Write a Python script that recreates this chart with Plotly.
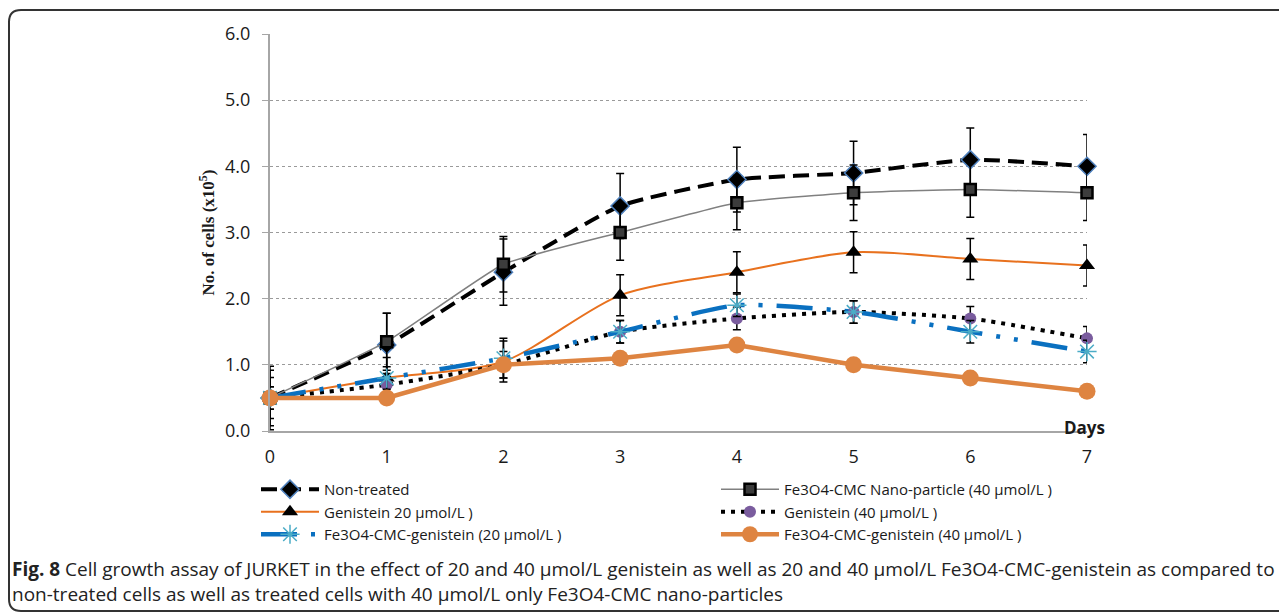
import plotly.graph_objects as go

# ---------------- data ----------------
days = [0, 1, 2, 3, 4, 5, 6, 7]
x_tick_labels = ["0", "1", "2", "3", "4", "5", "6", "7"]
y_tick_vals = [0, 1, 2, 3, 4, 5, 6]
y_tick_labels = ["0.0", "1.0", "2.0", "3.0", "4.0", "5.0", "6.0"]

series_names = [
    "Non-treated",
    "Fe3O4-CMC Nano-particle (40 μmol/L )",
    "Genistein 20 μmol/L )",
    "Genistein (40 μmol/L )",
    "Fe3O4-CMC-genistein (20 μmol/L )",
    "Fe3O4-CMC-genistein (40 μmol/L )",
]

non_treated = [0.5, 1.3, 2.4, 3.4, 3.8, 3.9, 4.1, 4.0]
non_treated_err = [0.48, 0.48, 0.5, 0.49, 0.49, 0.48, 0.48, 0.48]

np_40 = [0.5, 1.35, 2.52, 3.0, 3.45, 3.6, 3.65, 3.6]
np_40_err = [0.42, 0.43, 0.42, 0.42, 0.41, 0.42, 0.42, 0.42]

gen_20 = [0.5, 0.8, 1.05, 2.05, 2.4, 2.7, 2.6, 2.5]
gen_20_err = [0.31, 0.31, 0.31, 0.31, 0.31, 0.31, 0.31, 0.31]

gen_40 = [0.5, 0.7, 1.0, 1.5, 1.7, 1.8, 1.7, 1.4]
gen_40_err = [0.17, 0.17, 0.2, 0.17, 0.17, 0.17, 0.18, 0.18]

fe_gen_20 = [0.5, 0.8, 1.1, 1.5, 1.9, 1.8, 1.5, 1.2]
fe_gen_20_err = [0.17, 0.17, 0.3, 0.17, 0.17, 0.17, 0.17, 0.17]

fe_gen_40 = [0.5, 0.5, 1.0, 1.1, 1.3, 1.0, 0.8, 0.6]

caption_bold = "Fig. 8"
caption_text = (" Cell growth assay of JURKET in the effect of 20 and 40 μmol/L genistein as well as 20 and 40 μmol/L "
                "Fe3O4-CMC-genistein as compared to<br>non-treated cells as well as treated cells with 40 μmol/L only "
                "Fe3O4-CMC nano-particles")

FONT = "Open Sans"

# page has an 8px body margin; figure is sized so the plot area lands at page x 270..1087, y 34..431
OFF = 8
W, H = 1287 - OFF, 613 - OFF
ML, MR, MT, MB = 270 - OFF, 200, 34 - OFF, 182
PW, PH = W - ML - MR, H - MT - MB


def px(xpage):
    return (xpage - OFF - ML) / PW


def py(ypage):
    return (H - MB - (ypage - OFF)) / PH


def err(arr):
    return dict(type="data", array=arr, visible=True, color="black", thickness=1.5, width=4)


fig = go.Figure()

fig.add_trace(go.Scatter(
    x=days, y=non_treated, name=series_names[0], mode="lines+markers",
    line=dict(color="black", width=4, dash="16px,8px", shape="spline", smoothing=0.5),
    marker=dict(symbol="diamond", size=14, color="black", line=dict(color="#4F81BD", width=1.5)),
    error_y=err(non_treated_err), cliponaxis=False))

fig.add_trace(go.Scatter(
    x=days, y=np_40, name=series_names[1], mode="lines+markers",
    line=dict(color="#808080", width=1.5, shape="spline", smoothing=0.4),
    marker=dict(symbol="square", size=11, color="#3c3c3c", line=dict(color="black", width=2.5)),
    error_y=err(np_40_err), cliponaxis=False))

fig.add_trace(go.Scatter(
    x=days, y=gen_20, name=series_names[2], mode="lines+markers",
    line=dict(color="#E8711E", width=2, shape="spline", smoothing=0.8),
    marker=dict(symbol="triangle-up", size=14, color="black"),
    error_y=err(gen_20_err), cliponaxis=False))

fig.add_trace(go.Scatter(
    x=days, y=gen_40, name=series_names[3], mode="lines+markers",
    line=dict(color="black", width=4, dash="4px,6px", shape="spline", smoothing=0.6),
    marker=dict(symbol="circle", size=12, color="#7A5C9E"),
    error_y=err(gen_40_err), cliponaxis=False))

fig.add_trace(go.Scatter(
    x=days, y=fe_gen_20, name=series_names[4], mode="lines+markers",
    line=dict(color="#0A70C0", width=4.5, dash="36px,14px,4px,14px,4px,14px", shape="spline", smoothing=0.6),
    marker=dict(symbol="asterisk-open", size=16, color="#4BACC6", line=dict(color="#4BACC6", width=1.5)),
    error_y=err(fe_gen_20_err), cliponaxis=False))

fig.add_trace(go.Scatter(
    x=days, y=fe_gen_40, name=series_names[5], mode="lines+markers",
    line=dict(color="#DE8441", width=4.5),
    marker=dict(symbol="circle", size=17, color="#DE8441"),
    cliponaxis=False))

fig.update_layout(
    width=W, height=H,
    margin=dict(l=ML, r=MR, t=MT, b=MB, pad=0),
    paper_bgcolor="white", plot_bgcolor="white",
    font=dict(family=FONT, color="#1a1a1a"),
    showlegend=True,
    legend=dict(
        orientation="h", x=px(256), xanchor="left", y=py(473), yanchor="top",
        entrywidth=387, entrywidthmode="pixels",
        font=dict(family=FONT, size=15, color="#1a1a1a"),
        bgcolor="rgba(0,0,0,0)", itemwidth=58, tracegroupgap=0,
    ),
    xaxis=dict(
        range=[0, 7], tickmode="array", tickvals=days, ticktext=x_tick_labels,
        showgrid=False, zeroline=False, showline=True, linecolor="#A6A6A6", linewidth=2,
        ticks="outside", ticklen=8, tickcolor="rgba(0,0,0,0)",
        tickfont=dict(family=FONT, size=18, color="#1a1a1a"),
    ),
    yaxis=dict(
        range=[0, 6], tickmode="array", tickvals=y_tick_vals, ticktext=y_tick_labels,
        showgrid=True, gridcolor="#9a9a9a", gridwidth=1, griddash="dot",
        zeroline=False, showline=True, linecolor="#A6A6A6", linewidth=2,
        ticks="outside", ticklen=6, tickcolor="#A6A6A6",
        ticklabelstandoff=8,
        tickfont=dict(family=FONT, size=18, color="#1a1a1a"),
        title=dict(text="<b>No. of cells (x10<sup>5</sup>)</b>",
                   font=dict(family="Liberation Serif", size=17, color="#1a1a1a"), standoff=6),
    ),
)

fig.add_annotation(x=6.98, y=0.05, xref="x", yref="y", text="<b>Days</b>", showarrow=False,
                   xanchor="center", yanchor="middle",
                   font=dict(family=FONT, size=17, color="#1a1a1a"))

fig.add_annotation(x=px(10), y=py(554), xref="paper", yref="paper",
                   text="<b>" + caption_bold + "</b>" + caption_text, showarrow=False,
                   xanchor="left", yanchor="top", align="left",
                   font=dict(family=FONT, size=19, color="#222222"))

# rounded frame around the figure
fig.add_shape(type="path", xref="paper", yref="paper", layer="below",
              path="M {r},{t} L {l2},{t} Q {l},{t} {l},{t2} L {l},{b2} Q {l},{b} {l2},{b} L {r},{b}".format(
                  r=px(1300), t=py(10), t2=py(22), b=py(611), b2=py(599), l=px(9), l2=px(21)),
              line=dict(color="#333333", width=2))

fig.write_html("out.html")
